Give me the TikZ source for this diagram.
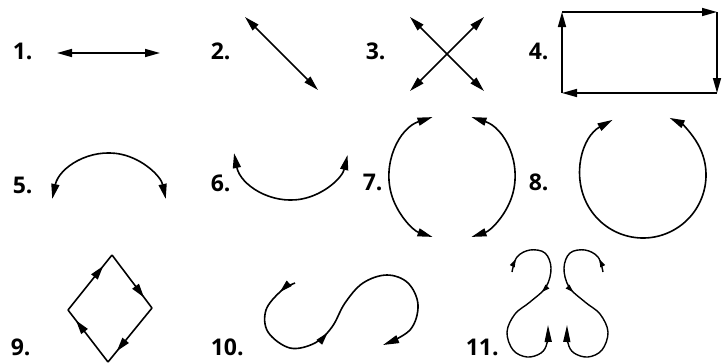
\documentclass[tikz,border=0pt]{standalone}
\usepackage{fontspec}
\setsansfont{Open Sans}
\usetikzlibrary{arrows.meta,decorations.markings}

\begin{document}
\begin{tikzpicture}[x=1pt,y=-1pt,line width=1.6pt,
  num/.style={anchor=west,inner sep=0pt,font=\sffamily\bfseries\fontsize{23}{23}\selectfont},
  endtip/.style={-{Triangle[length=15pt,width=8pt]}},
  bothtips/.style={{Triangle[length=15pt,width=8pt]}-{Triangle[length=15pt,width=8pt]}},
  midtip/.style={postaction={decorate},decoration={markings,
    mark=at position #1 with {\arrow{Triangle[length=14pt,width=8pt]}}}}]
\useasboundingbox (0,0) rectangle (723,362);

\node[num] (n1) at (12,51) {1.};
\node[num] (n2) at (210,51) {2.};
\node[num] (n3) at (365,51) {3.};
\node[num] (n4) at (528,51) {4.};
\node[num] (n5) at (12,185) {5.};
\node[num] (n6) at (210,183) {6.};
\node[num] (n7) at (362,182) {7.};
\node[num] (n8) at (528,182) {8.};
\node[num] (n9) at (10,347) {9.};
\node[num] (n10) at (210,347) {10.};
\node[num] (n11) at (465,347) {11.};

\coordinate (a1) at (57,53);
\coordinate (b1) at (160,53);
\draw[bothtips] (a1) -- (b1);

\coordinate (a2) at (245,17);
\coordinate (b2) at (318,90);
\draw[bothtips] (a2) -- (b2);

\coordinate (a3) at (410,17);
\coordinate (b3) at (484,91);
\coordinate (c3) at (484,17);
\coordinate (d3) at (410,91);
\draw[bothtips] (a3) -- (b3);
\draw[bothtips] (c3) -- (d3);

\coordinate (a4) at (562,93);
\coordinate (b4) at (562,12);
\coordinate (c4) at (717,12);
\coordinate (d4) at (717,93);
\draw[endtip] (a4) -- (b4);
\draw[endtip] (b4) -- (c4);
\draw[endtip] (c4) -- (d4);
\draw[endtip] (d4) -- (a4);

\coordinate (o5) at (109,211);
\draw[bothtips] (o5) ++(-168:58) arc[start angle=-168,end angle=-12,radius=58];

\coordinate (o6) at (291,142);
\draw[bothtips] (o6) ++(169:58) arc[start angle=169,end angle=13,radius=58];

\coordinate (o7) at (452,177);
\draw[bothtips] (o7) ++(-108:63) arc[start angle=-108,end angle=-252,radius=63];
\draw[bothtips] (o7) ++(-72:63) arc[start angle=-72,end angle=72,radius=63];

\coordinate (o8) at (643,175);
\draw[bothtips] (o8) ++(-119:63) arc[start angle=-119,end angle=-425,radius=63];

\coordinate (t9) at (112,255);
\coordinate (r9) at (152,308);
\coordinate (b9) at (108,362);
\coordinate (l9) at (68,310);
\draw[midtip=0.8] (l9) -- (t9);
\draw[midtip=0.8] (t9) -- (r9);
\draw[midtip=0.8] (r9) -- (b9);
\draw[midtip=0.8] (b9) -- (l9);

\draw[-{Triangle[length=16pt,width=8pt]},postaction={decorate},decoration={markings,
    mark=at position 0.055 with {\arrow{Triangle[length=13pt,width=7pt]}},
    mark=at position 0.41 with {\arrow{Triangle[length=13pt,width=7pt]}}}]
  plot[smooth,tension=0.6] coordinates {(295,283) (281,291) (266,310) (268,332) (290,348) (315,343)
    (332,327) (345,303) (363,283) (387,275) (408,283) (418,305) (410,330) (383,345)};

\draw[line width=1.4pt,-{Triangle[length=17pt,width=7pt]},postaction={decorate},decoration={markings,
    mark=at position 0.06 with {\arrow{Triangle[length=8pt,width=5pt]}},
    mark=at position 0.40 with {\arrow{Triangle[length=8pt,width=5pt]}}}]
  plot[smooth,tension=0.6] coordinates {(512,272) (517,257) (530,250) (545,253) (551,268) (546,287)
    (530,302) (515,314) (507,332) (513,350) (527,357) (541,353) (547,343) (548,325)};
\draw[line width=1.4pt,-{Triangle[length=17pt,width=7pt]},postaction={decorate},decoration={markings,
    mark=at position 0.06 with {\arrow{Triangle[length=8pt,width=5pt]}},
    mark=at position 0.40 with {\arrow{Triangle[length=8pt,width=5pt]}}}]
  plot[smooth,tension=0.6] coordinates {(603,272) (598,257) (585,250) (570,253) (564,268) (569,287)
    (585,302) (600,314) (608,332) (602,350) (588,357) (574,353) (568,343) (567,325)};
\end{tikzpicture}
\end{document}
